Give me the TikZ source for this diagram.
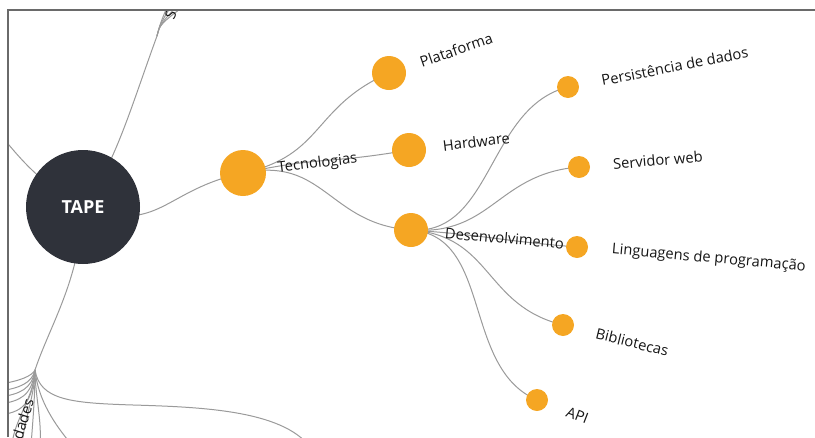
\documentclass[tikz,border=0pt]{standalone}
\usepackage{fontspec}
\setmainfont{Open Sans}
\usetikzlibrary{calc}
\definecolor{nodeorange}{HTML}{F5A623}
\definecolor{rootdark}{HTML}{2F323A}
\definecolor{linkgray}{HTML}{9A9A9A}
\definecolor{framegray}{HTML}{6A6A6A}
\definecolor{labeltext}{HTML}{151515}
\pgfdeclarelayer{links}
\pgfsetlayers{links,main}

\begin{document}
\begin{tikzpicture}[x=1pt,y=-1pt,
  link/.style={draw=linkgray, line width=1pt},
  rootnode/.style={circle, fill=rootdark, minimum size=114pt, inner sep=0pt,
    text=white, font=\fontsize{18}{18}\selectfont\bfseries},
  branchnode/.style={circle, fill=nodeorange, minimum size=46pt, inner sep=0pt},
  midnode/.style={circle, fill=nodeorange, minimum size=34pt, inner sep=0pt},
  leafnode/.style={circle, fill=nodeorange, minimum size=22pt, inner sep=0pt},
  lbl/.style={anchor=west, inner sep=0pt, text=labeltext,
    font=\fontsize{14.7}{16}\selectfont}]
\useasboundingbox (0,0) rectangle (815,437);

% tree nodes
\node[rootnode] (tape) at (83,207) {TAPE};
\node[branchnode] (tec) at (243,173) {};
\node[midnode] (pla) at (389,73) {};
\node[midnode] (hard) at (409,150) {};
\node[midnode] (des) at (411,230) {};
\node[leafnode] (pers) at (568,87) {};
\node[leafnode] (serv) at (579,167) {};
\node[leafnode] (ling) at (577,247) {};
\node[leafnode] (bib) at (563,325) {};
\node[leafnode] (api) at (537,400) {};

% branch points of the subtrees that run out of the frame
\coordinate (topfan) at (157,36);
\coordinate (botfan) at (35,370);

% radial links, drawn beneath the circles
\begin{pgfonlayer}{links}
\draw[link] (tape.center) .. controls ($(tape.center)+(20:82)$) and ($(tape.center)!0.5!(tec.center)$) .. (tec.center);
\foreach \c in {pla,hard,des}
  \draw[link] (tec.center) .. controls ($(tape.center)!1.509!(tec.center)$) and ($(tape.center)!0.748!(\c.center)$) .. (\c.center);
\foreach \c in {pers,serv,ling,bib,api}
  \draw[link] (des.center) .. controls ($(tape.center)!1.249!(des.center)$) and ($(tape.center)!0.834!(\c.center)$) .. (\c.center);

\begin{scope}
\clip (8,10) rectangle (815,437);
% upper subtree
\draw[link] (tape.center) .. controls (115,165) and (130,110) .. (topfan);
\foreach \x in {170,175,183,192}
  \draw[link] (topfan) .. controls (160,24) .. (\x,0);
% left subtree
\draw[link] (tape.center) .. controls (40,182) and (25,165) .. (-5,128);
% lower subtree
\draw[link] (tape.center) .. controls (80,280) and (50,325) .. (botfan);
\foreach \y in {380,387,393,400,411}
  \draw[link] (botfan) .. controls (32,\y-4) and (20,\y+1) .. (0,\y+4);
\foreach \x in {14,24,33,42}
  \draw[link] (botfan) .. controls (35,395) and (\x,420) .. (\x-2,445);
\draw[link] (botfan) .. controls (38,400) and (55,425) .. (72,445);
\draw[link] (botfan) .. controls (40,400) and (70,403) .. (133,405)
  .. controls (200,407) and (282,410) .. (310,447);
\end{scope}
\end{pgfonlayer}

% labels, set along the radial direction of each node
\node[lbl, rotate=7]  (tecl)  at ($(tec.center)+(-7:35)$)   {Tecnologias};
\node[lbl, rotate=19] (plal)  at ($(pla.center)+(-19:33)$)  {Plataforma};
\node[lbl, rotate=7]  (hardl) at ($(hard.center)+(-7:34)$)  {Hardware};
\node[lbl, rotate=-5] (desl)  at ($(des.center)+(5:34)$)    {Desenvolvimento};
\node[lbl, rotate=11] (persl) at ($(pers.center)+(-11:34)$) {Persistência de dados};
\node[lbl, rotate=5]  (servl) at ($(serv.center)+(-5:34)$)  {Servidor web};
\node[lbl, rotate=-5] (lingl) at ($(ling.center)+(5:35)$)   {Linguagens de programação};
\node[lbl, rotate=-14] (bibl) at ($(bib.center)+(14:34)$)   {Bibliotecas};
\node[lbl, rotate=-21] (apil) at ($(api.center)+(21:32)$)   {API};

% labels of the subtrees cut by the frame
\begin{scope}
\clip (8,10) rectangle (815,437);
\node[lbl, rotate=66] (topl) at (169,19) {S};
\node[lbl, anchor=east, rotate=73] (botl) at (29,399) {dades};
\end{scope}

% frame
\draw[framegray, line width=1.2pt] (8,437) -- (8,10);
\draw[framegray, line width=1.8pt] (7.4,10) -- (815,10);
\end{tikzpicture}
\end{document}
